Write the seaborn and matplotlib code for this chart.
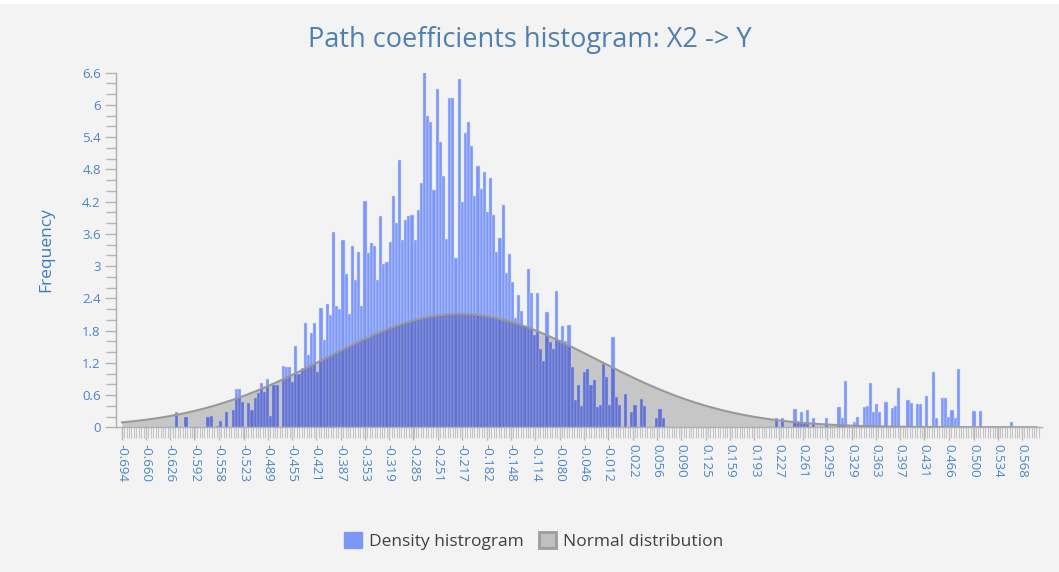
import numpy as np
import pandas as pd
import matplotlib
matplotlib.use("Agg")
import matplotlib.pyplot as plt
import seaborn as sns
from matplotlib.patches import Patch, Polygon, Rectangle
from matplotlib.ticker import FixedLocator, MultipleLocator

# histogram bins
bin_start = -0.694
bin_width = 0.0044

# density per bin, left to right
left_tail = [0, 0, 0, 0, 0, 0, 0, 0, 0, 0,
             0, 0, 0, 0, 0, 0, 0, 0.28, 0, 0,
             0.2, 0, 0, 0, 0, 0, 0, 0.19, 0.21, 0,
             0.03, 0.12, 0]
core = [0.29, 0, 0.32, 0.71, 0.71, 0.48, 0, 0.46, 0.32, 0.54,
        0.63, 0.82, 0.66, 0.9, 0.21, 0.79, 0.79, 0, 1.15, 1.13,
        1.12, 0.85, 1.52, 1.0, 1.1, 1.94, 1.35, 1.76, 1.94, 1.02,
        2.22, 1.63, 2.3, 2.09, 3.63, 2.26, 2.2, 3.48, 2.86, 2.11,
        3.38, 2.75, 3.27, 2.25, 4.22, 3.25, 3.43,
        3.37, 2.75, 3.94, 3.04, 3.07, 3.44, 4.3, 3.8, 4.97, 3.49,
        3.85, 3.93, 3.96, 3.49, 4.04, 4.55, 6.63, 5.79, 5.68, 4.41,
        6.3, 5.31, 4.68, 3.51, 6.13, 6.12, 3.15, 6.49, 4.19, 5.47,
        5.68, 5.23, 4.3, 4.86, 4.44, 4.75, 4.0, 4.64, 3.96, 3.27,
        3.53, 4.14, 2.87, 3.23, 2.71, 2.03, 2.47, 2.16,
        1.89, 2.94, 2.5, 1.72, 2.5, 1.46, 1.24, 2.14, 1.58, 1.45,
        2.54, 1.63, 1.89, 1.6, 1.9, 1.13, 0.5, 0.79, 0.39, 1.02,
        1.09, 0.79, 0.88, 0.37, 0.42, 1.18, 0.94, 0.42, 1.68, 0.56,
        0.42, 0, 0.62, 0, 0.28, 0.42, 0, 0.52, 0.4, 0,
        0, 0, 0.18, 0.34, 0.18]
gap = [0, 0, 0, 0, 0, 0, 0, 0, 0, 0,
       0, 0, 0, 0, 0, 0, 0, 0, 0, 0,
       0, 0, 0, 0, 0, 0, 0, 0, 0, 0,
       0, 0, 0, 0, 0]
right_tail = [0.17, 0, 0.17, 0, 0, 0, 0.34, 0.1, 0.29, 0.1,
              0.32, 0, 0.17, 0, 0, 0, 0.18, 0, 0, 0,
              0.37, 0.18, 0.87, 0, 0, 0.1, 0.19, 0, 0.37, 0.4,
              0.82, 0.29, 0.43, 0.29, 0, 0.47, 0, 0.35, 0.4, 0.74,
              0, 0, 0.51, 0.46, 0, 0.43, 0.43, 0, 0.59, 0,
              1.02, 0.17, 0, 0.54, 0.54, 0.2, 0.32, 0.18, 1.08, 0,
              0, 0, 0, 0.3, 0, 0.3, 0, 0, 0, 0,
              0, 0, 0, 0, 0, 0.09, 0, 0, 0, 0,
              0, 0, 0]

# normal distribution overlay
norm_mean = -0.22
norm_sd = 0.189
curve_start = -0.694
curve_end = 0.589

x_labels = ["-0.694", "-0.660", "-0.626", "-0.592", "-0.558", "-0.523", "-0.489",
            "-0.455", "-0.421", "-0.387", "-0.353", "-0.319", "-0.285", "-0.251",
            "-0.217", "-0.182", "-0.148", "-0.114", "-0.080", "-0.046", "-0.012",
            "0.022", "0.056", "0.090", "0.125", "0.159", "0.193", "0.227", "0.261",
            "0.295", "0.329", "0.363", "0.397", "0.431", "0.466", "0.500", "0.534",
            "0.568"]
y_labels = ["0", "0.6", "1.2", "1.8", "2.4", "3", "3.6", "4.2", "4.8", "5.4", "6", "6.6"]

heights = np.array(left_tail + core + gap + right_tail, dtype=float)
edges = bin_start + bin_width * np.arange(len(heights) + 1)
df = pd.DataFrame({"coef": edges[:-1] + bin_width / 2, "density": heights})

sns.set_style("white")
plt.rcParams["font.family"] = ["Open Sans", "DejaVu Sans"]

bg = "#f3f3f3"
blue = "#7d97f6"
blue_dark = "#6272d2"
gray_fill = "#c6c6c6"
text_blue = "#4a86c5"

fig = plt.figure(figsize=(10.59, 5.72), dpi=100, facecolor=bg)
fig.patches.append(Rectangle((0, 1 - 4 / 572), 1, 4 / 572, transform=fig.transFigure,
                             facecolor="white", edgecolor="none"))
ax = fig.add_axes([116 / 1059, 1 - 427.3 / 572, (1042 - 116) / 1059, (427.3 - 72.7) / 572])
ax.set_facecolor(bg)

xs = np.linspace(curve_start, curve_end, 500)
ys = np.exp(-0.5 * ((xs - norm_mean) / norm_sd) ** 2) / (norm_sd * np.sqrt(2 * np.pi))
ax.fill_between(xs, ys, color=gray_fill, lw=0, zorder=1)

# bars above the curve (light) and the part inside the curve (dark)
sns.histplot(data=df, x="coef", weights="density", bins=list(edges), color=blue,
             alpha=1, edgecolor="#d2daf8", linewidth=0.35, ax=ax, zorder=2)
n_before = len(ax.patches)
sns.histplot(data=df, x="coef", weights="density", bins=list(edges), color=blue_dark,
             alpha=1, edgecolor="#aab2e0", linewidth=0.35, ax=ax, zorder=3)
under_curve = Polygon(np.column_stack([np.r_[xs, xs[::-1]], np.r_[ys, np.zeros_like(ys)]]),
                      closed=True, transform=ax.transData)
for bar in ax.patches[n_before:]:
    bar.set_clip_path(under_curve)

sns.lineplot(x=xs, y=ys, color="#999999", lw=1.5, ax=ax, zorder=4)

ax.set_xlim(-0.702, 0.596)
ax.set_ylim(0, 6.6)

x_pos = [float(s) for s in x_labels]
ax.set_xticks(x_pos, x_labels, rotation=-90)
ax.xaxis.set_minor_locator(FixedLocator(np.arange(-0.694, 0.592, 0.0341 / 10)))
y_pos = [float(s) for s in y_labels]
ax.set_yticks(y_pos, y_labels)
ax.yaxis.set_minor_locator(MultipleLocator(0.2))

ax.tick_params(axis="x", which="major", length=9, width=1, color="#b5b5b5",
               labelsize=9.5, labelcolor=text_blue, pad=3)
ax.tick_params(axis="x", which="minor", length=8, width=0.8, color="#c4c4c4")
ax.tick_params(axis="y", which="major", length=8, width=1, color="#b5b5b5",
               labelsize=9.5, labelcolor=text_blue, pad=3)
ax.tick_params(axis="y", which="minor", length=7, width=1, color="#b5b5b5")
ax.tick_params(bottom=True, left=True, which="both")

for side in ["top", "right"]:
    ax.spines[side].set_visible(False)
for side in ["left", "bottom"]:
    ax.spines[side].set_color("#b0b0b0")
    ax.spines[side].set_linewidth(1)

ax.set_xlabel("")
ax.set_ylabel("Frequency", fontsize=12.5, color="#3c7dbd", labelpad=20)

fig.text(0.5, 1 - 40 / 572, "Path coefficients histogram: X2 -> Y", ha="center", va="center",
         fontsize=19.5, color="#4f7fae")

handles = [Patch(facecolor=blue, edgecolor=blue, label="Density histrogram"),
           Patch(facecolor="#c0c0c0", edgecolor="#9c9c9c", linewidth=2, label="Normal distribution")]
fig.legend(handles=handles, loc="center", bbox_to_anchor=(534 / 1059, 1 - 541 / 572), ncol=2,
           frameon=False, fontsize=12.5, handlelength=1.0, handleheight=1.0,
           handletextpad=0.4, columnspacing=0.9, labelcolor="#404040")

fig.savefig("out.png", dpi=100, facecolor=bg)
